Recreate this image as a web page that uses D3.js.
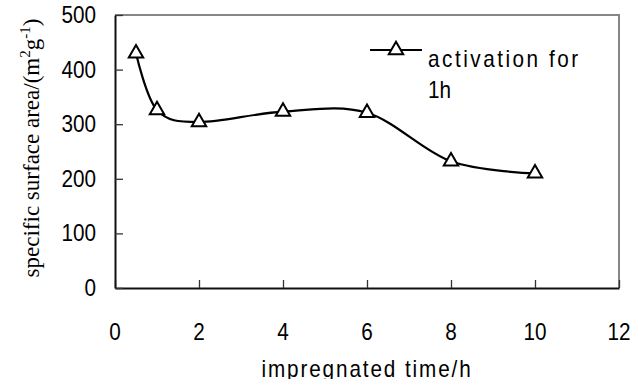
<!DOCTYPE html>
<meta charset="utf-8">
<style>
body { margin: 0; background: #fff; }
svg { display: block; }
.tick-label { font: 23px "Liberation Sans", Arial, sans-serif; fill: #000; }
.ylab { font: 23px "Liberation Serif", "Times New Roman", serif; fill: #000; }
</style>
<svg width="634" height="379"></svg>
<script src="https://d3js.org/d3.v7.min.js"></script>
<script>

// impregnated time (h)
var times = [0.5, 1, 2, 4, 6, 8, 10];
// specific surface area (m2/g), activation for 1h
var areas = [430, 326, 304, 323, 321, 232, 210];

var xTicks = [0, 2, 4, 6, 8, 10, 12];
var yTicks = [0, 100, 200, 300, 400, 500];

var svg = d3.select("svg");
var plotLeft = 115, plotRight = 619, plotTop = 15, plotBottom = 288;

var x = d3.scaleLinear().domain([0, 12]).range([plotLeft, plotRight]);
var y = d3.scaleLinear().domain([0, 500]).range([plotBottom, plotTop]);

// the sans labels in the original are a bit narrow
function narrow(px, py) { return "translate(" + px + "," + py + ") scale(0.9,1)"; }

// frame: grey top/right
svg.append("path")
	.attr("d", "M" + plotLeft + "," + plotTop + "H" + plotRight + "V" + plotBottom)
	.attr("fill", "none")
	.attr("stroke", "#868686")
	.attr("stroke-width", 2);

// x axis
var xAxis = svg.append("g")
	.attr("transform", "translate(0," + plotBottom + ")")
	.call(d3.axisBottom(x).tickValues(xTicks).tickSizeInner(-8).tickSizeOuter(0).tickFormat(""));
xAxis.select(".domain").attr("stroke", "#111").attr("stroke-width", 2);
xAxis.selectAll(".tick line").attr("stroke", "#333").attr("stroke-width", 1.3);

// y axis
var yAxis = svg.append("g")
	.attr("transform", "translate(" + plotLeft + ",0)")
	.call(d3.axisLeft(y).tickValues(yTicks).tickSizeInner(-8).tickSizeOuter(0).tickFormat(""));
yAxis.select(".domain").attr("stroke", "#111").attr("stroke-width", 2);
yAxis.selectAll(".tick line").attr("stroke", "#333").attr("stroke-width", 1.3);

// tick labels
svg.selectAll(".xl")
	.data(xTicks)
	.enter().append("text")
	.attr("class", "tick-label")
	.attr("transform", function(d) { return narrow(x(d), 340); })
	.attr("text-anchor", "middle")
	.text(function(d) { return d; });

svg.selectAll(".yl")
	.data(yTicks)
	.enter().append("text")
	.attr("class", "tick-label")
	.attr("transform", function(d) { return narrow(96, y(d) + 8); })
	.attr("text-anchor", "end")
	.text(function(d) { return d; });

// axis titles
svg.append("text")
	.attr("class", "tick-label")
	.attr("transform", narrow((plotLeft + plotRight) / 2, 377))
	.attr("text-anchor", "middle")
	.style("letter-spacing", "2.1px")
	.text("impregnated time/h");

var yl = svg.append("text")
	.attr("class", "ylab")
	.attr("transform", "translate(39,148) rotate(-90)")
	.attr("text-anchor", "middle");
yl.append("tspan").text("specific surface area/(m");
yl.append("tspan").attr("dy", -9).style("font-size", "15px").text("2");
yl.append("tspan").attr("dy", 9).text("g");
yl.append("tspan").attr("dy", -9).style("font-size", "15px").text("-1");
yl.append("tspan").attr("dy", 9).text(")");

// data line
var line = d3.line()
	.x(function(d, i) { return x(times[i]); })
	.y(function(d) { return y(d); })
	.curve(d3.curveCardinal.tension(0));

svg.append("path")
	.datum(areas)
	.attr("d", line)
	.attr("fill", "none")
	.attr("stroke", "#000")
	.attr("stroke-width", 2.2);

var tri = d3.symbol().type(d3.symbolTriangle).size(90);

svg.selectAll(".pt")
	.data(areas)
	.enter().append("path")
	.attr("d", tri)
	.attr("transform", function(d, i) { return "translate(" + x(times[i]) + "," + y(d) + ")"; })
	.attr("fill", "#fff")
	.attr("stroke", "#000")
	.attr("stroke-width", 2);

// legend
svg.append("line")
	.attr("x1", 370).attr("x2", 422)
	.attr("y1", 50).attr("y2", 50)
	.attr("stroke", "#000").attr("stroke-width", 2.2);
svg.append("path")
	.attr("d", tri)
	.attr("transform", "translate(396,50)")
	.attr("fill", "#fff").attr("stroke", "#000").attr("stroke-width", 2);
svg.append("text")
	.attr("class", "tick-label")
	.attr("transform", narrow(428, 67))
	.style("letter-spacing", "2.8px")
	.text("activation for");
svg.append("text")
	.attr("class", "tick-label")
	.attr("transform", narrow(428, 98))
	.text("1h");

</script>
